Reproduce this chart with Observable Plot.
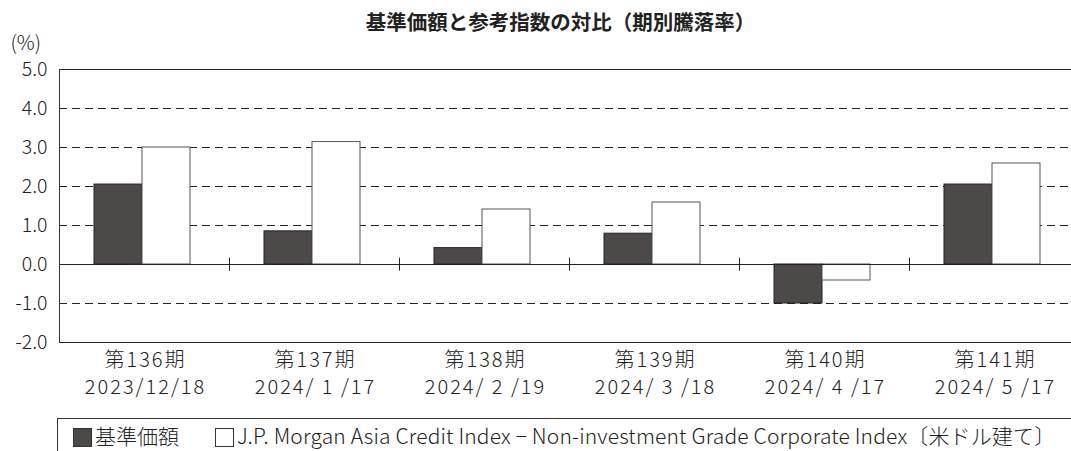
<!DOCTYPE html>
<html><head><meta charset="utf-8">
<script src="https://cdn.jsdelivr.net/npm/d3@7"></script>
<script src="https://cdn.jsdelivr.net/npm/@observablehq/plot@0.6"></script>
<style>
body{margin:0;background:#fff;font-family:"Noto Sans CJK JP","Noto Sans",sans-serif;color:#222;width:1071px;height:451px;overflow:hidden;position:relative}
#title{height:32px;text-align:center;font-size:20.5px;font-weight:bold;line-height:22px;padding-top:10px;box-sizing:border-box;padding-left:50px;white-space:nowrap}
#chart{height:380px}
#legend{position:absolute;left:57px;top:418px;width:1100px;height:40px;border:1px solid #333;box-sizing:border-box;font-size:21px;font-weight:300;line-height:32px;white-space:nowrap;padding-left:15px}
#legend .lab2{letter-spacing:0.15px}
.sw{display:inline-block;width:19px;height:19px;vertical-align:-3px;margin-right:3px;border:1px solid #333;box-sizing:border-box}
svg text{font-weight:300}
</style></head>
<body>
<div id="title">基準価額と参考指数の対比（期別騰落率）</div>
<div id="chart"></div>
<div id="legend"><span class="sw" style="background:#4d4948"></span>基準価額<span class="sw" style="background:#fff;margin-left:36px"></span><span class="lab2">J.P. Morgan Asia Credit Index − Non-investment Grade Corporate Index〔米ドル建て〕</span></div>
<script>
const periods = ["第136期","第137期","第138期","第139期","第140期","第141期"];
const dates = ["2023/12/18","2024/ 1 /17","2024/ 2 /19","2024/ 3 /18","2024/ 4 /17","2024/ 5 /17"];
const fundReturns = [2.05, 0.85, 0.42, 0.79, -1.0, 2.05];
const indexReturns = [3.0, 3.14, 1.41, 1.59, -0.41, 2.59];
const yTicks = [-2, -1, 0, 1, 2, 3, 4, 5];

const rows = periods.map((p, i) => ({period: p, date: dates[i], fund: fundReturns[i], index: indexReturns[i]}));
const font = "Noto Sans CJK JP";

const chart = Plot.plot({
  width: 1071,
  height: 380,
  marginTop: 37,
  marginBottom: 70,
  marginLeft: 59,
  marginRight: 0,
  style: {fontFamily: font, color: "#222", background: "#fff", overflow: "visible"},
  x: {domain: periods, range: [59, 1079], padding: 0, axis: null},
  y: {domain: [-2, 5], ticks: yTicks, axis: null},
  marks: [
    Plot.ruleY(yTicks.filter(d => d !== 0 && d !== 5 && d !== -2), {stroke: "#222", strokeWidth: 1, strokeDasharray: "8,5"}),
    Plot.ruleY([5, -2], {stroke: "#222", strokeWidth: 1}),
    Plot.barY(rows, {x: "period", y: "fund", fill: "#4d4948", stroke: "#222", strokeWidth: 1, insetLeft: 35, insetRight: 87}),
    Plot.barY(rows, {x: "period", y: "index", fill: "#fff", stroke: "#555", strokeWidth: 1, insetLeft: 83, insetRight: 39}),
    Plot.ruleY([0], {stroke: "#222", strokeWidth: 1}),
    Plot.ruleX(periods.slice(1), {x: d => d, y1: -0.17, y2: 0.16, stroke: "#222", dx: -85}),
    Plot.ruleX([periods[0]], {x: d => d, y1: -2, y2: 5, stroke: "#333", dx: -85}),
    Plot.axisY({ticks: yTicks, tickFormat: d => d.toFixed(1), tickSize: 0, tickPadding: 12, fontSize: 19.5, fill: "#222"}),
    Plot.text(rows, {x: "period", y: -2, text: "period", dy: 18, dx: 1, fontSize: 20, fill: "#222"}),
    Plot.text(rows, {x: "period", y: -2, text: "date", dy: 45, dx: 1, fontSize: 20, fill: "#222"}),
    Plot.text(["(%)"], {frameAnchor: "top-left", dx: -49, dy: -26, textAnchor: "start", lineAnchor: "middle", fontSize: 20, fill: "#222"})
  ]
});
chart.querySelectorAll("text").forEach(t => {
  if (/\d{4}\//.test(t.textContent) || /期/.test(t.textContent)) t.setAttribute("letter-spacing", "2");
});
document.getElementById("chart").appendChild(chart);
</script>
</body></html>
